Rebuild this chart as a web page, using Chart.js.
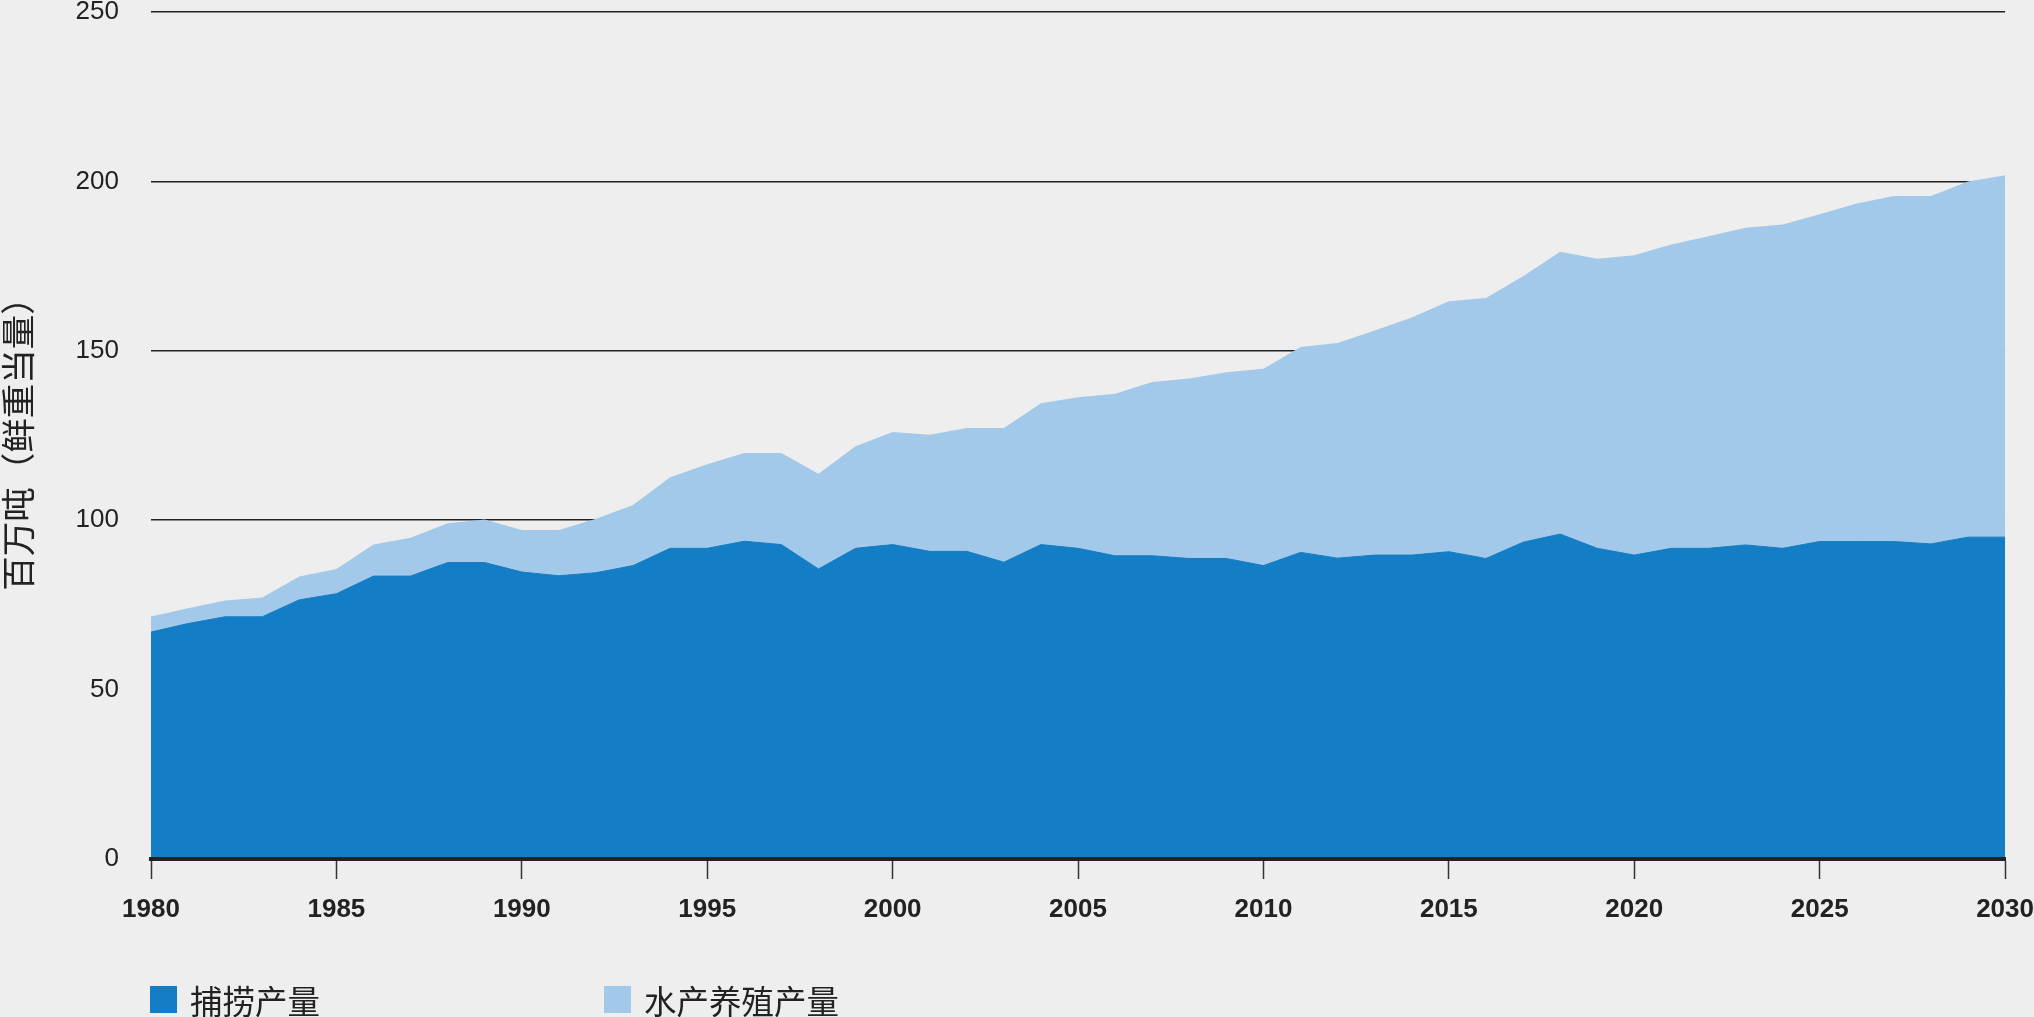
<!DOCTYPE html>
<html>
<head>
<meta charset="utf-8">
<script src="https://cdn.jsdelivr.net/npm/chart.js@4.4.1/dist/chart.umd.min.js"></script>
<style>
  html, body { margin: 0; padding: 0; background: #eeeeee; }
  #wrap { position: relative; width: 2034px; height: 1017px; background: #eeeeee; }
  #legend { position: absolute; left: 150px; top: 986px; height: 27px; font-family: "Noto Sans CJK SC", sans-serif; font-size: 32.5px; color: #222; }
  .item { position: absolute; top: 0; white-space: nowrap; line-height: 27px; }
  .box { display: inline-block; width: 27px; height: 27px; vertical-align: top; margin-right: 13px; }
</style>
</head>
<body>
<div id="wrap">
  <canvas id="myChart" width="2034" height="1017"></canvas>
  <div id="legend">
    <div class="item" style="left:0px"><span class="box" style="background:#137dc5"></span>捕捞产量</div>
    <div class="item" style="left:454px"><span class="box" style="background:#a3c9ea"></span>水产养殖产量</div>
  </div>
</div>
<script>
// 1980 - 2030
const years = [];
for (let y = 1980; y <= 2030; y++) years.push(y);

// 捕捞产量 (百万吨)
const capture = [
  67, 69.5, 71.5, 71.5, 76.5, 78.3, 83.5, 83.5, 87.5, 87.5,
  84.7, 83.6, 84.5, 86.6, 91.7, 91.7, 93.8, 92.8, 85.6, 91.7,
  92.8, 90.8, 90.8, 87.6, 92.8, 91.7, 89.5, 89.5, 88.7, 88.7,
  86.6, 90.5, 88.8, 89.7, 89.7, 90.7, 88.7, 93.5, 95.9, 91.7,
  89.7, 91.7, 91.7, 92.7, 91.7, 93.7, 93.7, 93.7, 93, 95,
  95
];

// 水产养殖产量 (百万吨)
const aquaculture = [
  4.6, 4.5, 4.8, 5.7, 6.9, 7.3, 9.3, 11.3, 11.6, 12.7,
  12.4, 13.5, 15.9, 17.9, 21.0, 24.8, 26.0, 27.0, 28.1, 30.1,
  33.2, 34.4, 36.4, 39.6, 41.7, 44.6, 47.8, 51.3, 53.1, 55.0,
  58.1, 60.6, 63.5, 66.3, 70.1, 73.9, 76.9, 78.5, 83.3, 85.5,
  88.5, 89.7, 92.1, 93.6, 95.6, 96.6, 99.8, 102.0, 102.7, 105.0,
  106.8
];

const yTicks = [0, 50, 100, 150, 200, 250];

const numFont = '"Liberation Sans", Arial, sans-serif';

const ctx = document.getElementById("myChart").getContext("2d");
new Chart(ctx, {
  type: "line",
  data: {
    labels: years,
    datasets: [
      {
        label: "捕捞产量",
        data: capture,
        backgroundColor: "#137dc5",
        borderColor: "#137dc5",
        borderWidth: 1,
        pointRadius: 0,
        fill: "origin",
        tension: 0,
      },
      {
        label: "水产养殖产量",
        data: aquaculture,
        backgroundColor: "#a3c9ea",
        borderWidth: 0,
        pointRadius: 0,
        fill: "-1",
        tension: 0,
      },
    ],
  },
  options: {
    responsive: false,
    animation: false,
    devicePixelRatio: 1,
    layout: { padding: { top: 12, right: 28, left: 0, bottom: 0 } },
    plugins: {
      legend: { display: false },
      tooltip: { enabled: false },
    },
    scales: {
      x: {
        type: "category",
        offset: false,
        afterFit: function (scale) {
          scale.height = 158;
        },
        grid: {
          display: true,
          drawOnChartArea: false,
          drawTicks: true,
          tickLength: 20,
          tickWidth: 1.5,
          tickColor: "#333",
        },
        border: { display: true, width: 4, color: "#222", z: 1 },
        ticks: {
          autoSkip: false,
          maxRotation: 0,
          padding: 0,
          color: "#222",
          // tall line height pushes the labels down without widening side padding
          font: { family: numFont, size: 26, weight: "bold", lineHeight: 2.4 },
          callback: function (value, index) {
            const yr = years[index];
            return yr % 5 === 0 ? String(yr) : null;
          },
        },
      },
      y: {
        stacked: true,
        min: 0,
        max: 250,
        afterFit: function (scale) {
          scale.width = 151;
        },
        afterBuildTicks: function (scale) {
          scale.ticks = yTicks.map((v) => ({ value: v }));
        },
        grid: {
          color: "#222",
          lineWidth: 1.5,
          drawTicks: true,
          tickLength: 32,
          tickColor: "rgba(0,0,0,0)",
        },
        border: { display: false },
        ticks: {
          padding: 0,
          color: "#222",
          font: { family: numFont, size: 26, lineHeight: 0.9 },
        },
        title: {
          display: true,
          text: "百万吨（鲜重当量）",
          color: "#222",
          padding: { top: 0, bottom: 0 },
          font: { family: '"Noto Sans CJK SC", sans-serif', size: 34.5, lineHeight: 1.05 },
        },
      },
    },
  },
});
</script>
</body>
</html>
